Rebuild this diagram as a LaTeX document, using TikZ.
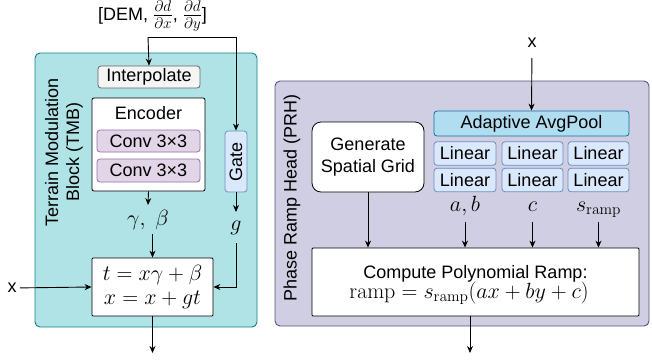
\RequirePackage{fix-cm}
\documentclass[tikz,border=0pt]{standalone}
\usepackage[no-math]{fontspec}
\setmainfont{Liberation Sans}
\usetikzlibrary{arrows.meta}

\definecolor{tmbfill}{HTML}{B0E3E6}
\definecolor{tmbdraw}{HTML}{0E8088}
\definecolor{prhfill}{HTML}{D0CEE2}
\definecolor{prhdraw}{HTML}{56517E}
\definecolor{grayfill}{HTML}{F5F5F5}
\definecolor{graydraw}{HTML}{666666}
\definecolor{convfill}{HTML}{E1D5E7}
\definecolor{convdraw}{HTML}{9673A6}
\definecolor{bluefill}{HTML}{DAE8FC}
\definecolor{bluedraw}{HTML}{6C8EBF}
\definecolor{poolfill}{HTML}{B1DDF0}
\definecolor{pooldraw}{HTML}{10739E}

\newcommand{\txt}{\fontsize{18}{21}\selectfont}
\newcommand{\mth}{\fontsize{22}{24}\selectfont}

\begin{document}
\begin{tikzpicture}[x=1pt,y=-1pt,
  every node/.style={font=\txt},
  arr/.style={draw=black, line width=0.9pt, -{Stealth[length=7pt,width=6pt]}},
  boxed/.style 2 args={draw, line width=0.8pt, inner sep=0pt,
    minimum width=#1, minimum height=#2},
  container/.style={draw, line width=0.9pt, rounded corners=5pt}
]
\useasboundingbox (0,0) rectangle (652,362);

% ---------- containers ----------
\node[container, fill=tmbfill, draw=tmbdraw, minimum width=222pt, minimum height=274pt]
  (tmb) at (146,190) {};
\node[container, fill=prhfill, draw=prhdraw, minimum width=374pt, minimum height=245pt]
  (prh) at (462,203.5) {};

\node[rotate=90, align=center] (tmblabel) at (64,152) {Terrain Modulation\\Block (TMB)};
\node[rotate=90] (prhlabel) at (292,198) {Phase Ramp Head (PRH)};

% ---------- terrain modulation block ----------
\node[anchor=base, inner sep=0pt] (dem) at (152.5,20.5) {[DEM,
  {\mth$\frac{\partial d}{\partial x}$},
  {\mth$\frac{\partial d}{\partial y}$}]};
\coordinate (demout) at (148,37);

\node[boxed={102pt}{22pt}, fill=grayfill, draw=graydraw, rounded corners=3pt]
  (interp) at (149,77) {Interpolate};
\node[boxed={113pt}{93pt}, fill=white, rounded corners=2pt] (enc) at (148.5,144.5) {};
\node (enclabel) at (148.5,113) {Encoder};
\node[boxed={103pt}{22pt}, fill=convfill, draw=convdraw, rounded corners=3pt]
  (conv1) at (148.5,141) {Conv 3×3};
\node[boxed={103pt}{23pt}, fill=convfill, draw=convdraw, rounded corners=3pt]
  (conv2) at (148.5,170.5) {Conv 3×3};
\node[boxed={22pt}{61pt}, fill=bluefill, draw=bluedraw, rounded corners=3pt]
  (gate) at (236,161.5) {};
\node[rotate=90] (gatelabel) at (gate.center) {Gate};

\node[anchor=base, inner sep=0pt, font=\mth] (gb) at (148,225) {$\gamma,\ \beta$};
\node[anchor=base, inner sep=0pt, font=\mth] (g) at (236,230) {$g$};

\node[boxed={121pt}{58pt}, fill=white, align=center, font=\mth, rounded corners=1pt]
  (eq) at (152.5,287) {$t = x\gamma + \beta$\\$x = x + gt$};

\node[inner sep=0pt] (xl) at (12,288) {x};
\coordinate (outL) at (152.5,353);

\draw[arr] (demout) -- (interp.north);
\draw[arr] (demout) -| (gate.north);
\draw[arr] (enc.south) -- ([yshift=20pt]gb.base);
\draw[arr, shorten <=9pt] (gb.base -| eq.north) -- (eq.north);
\draw[arr] (gate.south) -- ([yshift=18pt]g.base);
\draw[arr, shorten <=13pt] (g.base) |- (eq.east);
\draw[arr, shorten <=8pt] (xl.center) -- (eq.west);
\draw[arr] (eq.south) -- (outL);

% ---------- phase ramp head ----------
\node[anchor=base, inner sep=0pt] (xr) at (532,47) {x};

\node[boxed={195pt}{25pt}, fill=poolfill, draw=pooldraw, rounded corners=3pt]
  (pool) at (531.5,123.5) {Adaptive AvgPool};

\foreach \c/\cx/\w in {1/465/62, 2/532.5/61, 3/598.5/61} {
  \node[boxed={\w pt}{23.5pt}, fill=bluefill, draw=bluedraw, rounded corners=3pt]
    (lina\c) at (\cx,153.5) {Linear};
  \node[boxed={\w pt}{23.5pt}, fill=bluefill, draw=bluedraw, rounded corners=3pt]
    (linb\c) at (\cx,180) {Linear};
}

\node[boxed={112pt}{70pt}, fill=white, rounded corners=9pt, align=center,
  font=\fontsize{18}{22}\selectfont] (grid) at (368,157) {Generate\\Spatial Grid};

\node[anchor=base, inner sep=0pt, font=\mth] (ab) at (465,211) {$a, b$};
\node[anchor=base, inner sep=0pt, font=\mth] (cc) at (532.5,211) {$c$};
\node[anchor=base, inner sep=0pt, font=\mth] (sr) at (598.5,211) {$s_{\mathrm{ramp}}$};

\node[boxed={327pt}{68pt}, fill=white, rounded corners=1pt] (cpr) at (475.5,282) {};
\node[anchor=base, inner sep=0pt] (cprtext) at (475.5,278.5) {Compute Polynomial Ramp:};
\node[anchor=base, inner sep=0pt, font=\mth] (cprmath) at (469,298.5)
  {$\mathrm{ramp} = s_{\mathrm{ramp}}(ax + by + c)$};
\coordinate (outR) at (470,353);

\draw[arr, shorten <=11pt] (xr.base) -- (pool.north);
\draw[arr] (grid.south) -- (grid.south |- cpr.north);
\draw[arr, shorten <=11pt] (ab.base) -- (ab.base |- cpr.north);
\draw[arr, shorten <=11pt] (cc.base) -- (cc.base |- cpr.north);
\draw[arr, shorten <=11pt] (sr.base) -- (sr.base |- cpr.north);
\draw[arr] (cpr.south -| outR) -- (outR);
\end{tikzpicture}
\end{document}
